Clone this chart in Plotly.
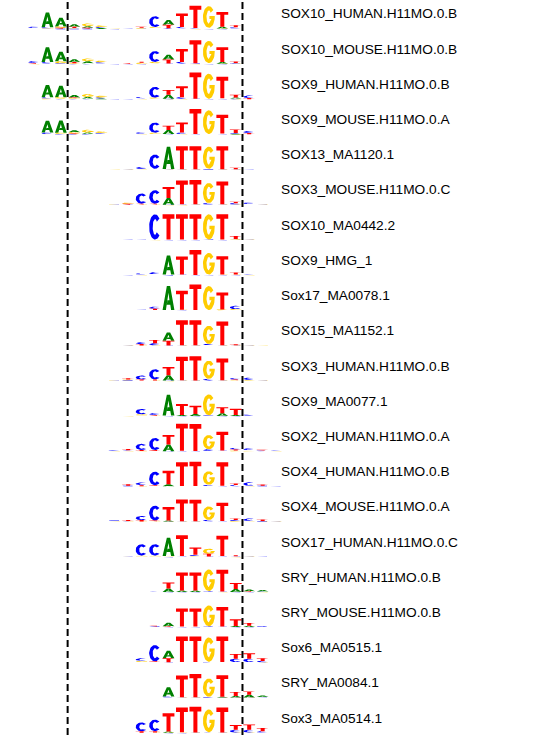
import numpy as np
import plotly.graph_objects as go

# ---------------- data (information content, bits) ----------------
NAMES = [
    "SOX10_HUMAN.H11MO.0.B", "SOX10_MOUSE.H11MO.0.B", "SOX9_HUMAN.H11MO.0.B",
    "SOX9_MOUSE.H11MO.0.A", "SOX13_MA1120.1", "SOX3_MOUSE.H11MO.0.C",
    "SOX10_MA0442.2", "SOX9_HMG_1", "Sox17_MA0078.1", "SOX15_MA1152.1",
    "SOX3_HUMAN.H11MO.0.B", "SOX9_MA0077.1", "SOX2_HUMAN.H11MO.0.A",
    "SOX4_HUMAN.H11MO.0.B", "SOX4_MOUSE.H11MO.0.A", "SOX17_HUMAN.H11MO.0.C",
    "SRY_HUMAN.H11MO.0.B", "SRY_MOUSE.H11MO.0.B", "Sox6_MA0515.1",
    "SRY_MA0084.1", "Sox3_MA0514.1",
]
POSITIONS = list(range(19))          # aligned motif positions
CORE_BOUNDS = [2.5, 15.5]            # dashed guide lines (between positions)

A_BITS = [
    [.04,1.10,.65,.20,.12,.06,.03,.02,.02,.04,.35,.04,.03,.05,.12,.04,0,0,0],
    [.04,1.10,.70,.20,.15,.05,.03,.02,.02,.04,.35,.04,.03,.04,.12,.03,0,0,0],
    [0,.90,.85,.18,.12,.06,.02,.02,.02,.04,.30,.04,.02,.03,.05,.08,.02,0,0],
    [0,.87,.90,.15,.10,.05,.02,.02,.02,.04,.30,.04,.02,.03,.05,.06,.02,0,0],
    [0,0,0,0,0,0,.02,.02,.02,.03,1.65,.02,.02,.02,.02,.03,.02,0,0],
    [0,0,0,0,0,0,.02,.02,.03,.03,.50,.03,.02,.03,.02,.03,.02,.02,0],
    [0,0,0,0,0,0,0,.02,.02,.03,.03,.03,.03,.02,.03,.03,.02,0,0],
    [0,0,0,0,0,0,0,.02,.02,.03,1.40,.03,.02,.03,.03,.03,.02,0,0],
    [0,0,0,0,0,0,.02,.02,.02,.03,1.78,.03,.02,.02,.03,.02,0,0,0],
    [0,0,0,0,0,0,.01,.02,.02,.03,.60,.02,.02,.05,.03,.02,.02,.04,0],
    [0,0,0,0,0,0,.02,.02,.02,.03,.40,.02,.02,.03,.02,.03,.03,.02,.01],
    [0,0,0,0,0,0,0,.01,.03,.03,1.55,.08,.15,.02,.20,.08,.02,0,0],
    [0,0,0,0,0,0,.02,.02,.02,.03,.50,.03,.02,.03,.03,.03,.03,.02,.02],
    [0,0,0,0,0,0,.02,.02,.02,.03,.15,.03,.02,.03,.03,.02,.02,.02,.01],
    [0,0,0,0,0,0,.02,.02,.02,.03,.08,.03,.02,.03,.03,.02,.02,.02,.01],
    [0,0,0,0,0,0,0,.02,.03,.03,1.35,.03,.05,.03,.03,.03,.02,.02,0],
    [0,0,0,0,0,0,0,0,0,.02,.25,.10,.10,.02,.03,.22,.12,.10,0],
    [0,0,0,0,0,0,0,0,0,.02,.25,.04,.04,.02,.03,.08,.10,.02,0],
    [0,0,0,0,0,0,0,0,.02,.03,.55,.02,.02,.02,.02,.03,.03,.02,0],
    [0,0,0,0,0,0,0,0,0,0,.70,.03,.02,.02,.06,.12,.20,.10,.01],
    [0,0,0,0,0,0,0,0,.02,.03,.10,.03,.02,.02,.02,.03,.03,.02,0],
]
C_BITS = [
    [.10,.08,.05,.05,.05,.08,.02,.02,.03,.80,.05,.10,.05,.03,.03,.08,0,0,0],
    [.12,.10,.05,.04,.04,.08,.02,.02,.03,.80,.04,.12,.04,.03,.03,.05,0,0,0],
    [0,.10,.04,.04,.04,.08,.02,.02,.10,.80,.04,.12,.03,.02,.03,.05,.20,0,0],
    [0,.10,.04,.04,.04,.06,.02,.02,.10,.75,.03,.10,.03,.02,.03,.06,.15,0,0],
    [0,0,0,0,0,0,.01,.02,.15,1.05,.02,.02,.02,.05,.02,.02,.02,0,0],
    [0,0,0,0,0,0,.03,.03,.75,1.00,.03,.03,.03,.10,.03,.10,.10,.03,0],
    [0,0,0,0,0,0,0,.02,.03,1.87,.02,.02,.02,.03,.02,.03,.03,0,0],
    [0,0,0,0,0,0,0,.02,.10,.15,.03,.03,.02,.03,.03,.03,.05,0,0],
    [0,0,0,0,0,0,.02,.02,.03,.15,.02,.03,.02,.02,.02,.25,0,0,0],
    [0,0,0,0,0,0,.01,.02,.15,.15,.03,.02,.02,.08,.02,.02,.02,.01,0],
    [0,0,0,0,0,0,.02,.05,.30,.75,.03,.03,.02,.12,.03,.10,.15,.03,.01],
    [0,0,0,0,0,0,0,.01,.40,.12,.02,.02,.02,.05,.02,.02,.08,0,0],
    [0,0,0,0,0,0,.05,.05,.45,.90,.02,.02,.02,.12,.03,.12,.12,.04,.05],
    [0,0,0,0,0,0,.02,.05,.20,1.00,.02,.02,.02,.10,.03,.10,.25,.05,.02],
    [0,0,0,0,0,0,.05,.04,.30,1.10,.02,.02,.02,.10,.03,.08,.18,.05,.02],
    [0,0,0,0,0,0,0,.02,.85,.85,.03,.03,.08,.03,.03,.03,.03,.03,0],
    [0,0,0,0,0,0,0,0,0,.04,.02,.02,.02,.06,.03,.02,.02,.04,0],
    [0,0,0,0,0,0,0,0,0,.05,.03,.02,.02,.06,.03,.03,.03,.06,0],
    [0,0,0,0,0,0,0,0,.20,1.20,.03,.02,.02,.04,.02,.25,.25,.10,0],
    [0,0,0,0,0,0,0,0,0,0,.06,.02,.02,.06,.02,.02,.02,.03,.01],
    [0,0,0,0,0,0,0,0,.65,.85,.02,.02,.02,.04,.02,.20,.20,.10,0],
]
G_BITS = [
    [.03,.04,.10,.05,.20,.12,.02,.03,.06,.08,.03,.03,.02,1.60,.03,.03,0,0,0],
    [.02,.03,.15,.05,.20,.12,.02,.02,.08,.10,.03,.03,.02,1.65,.03,.03,0,0,0],
    [0,.05,.10,.06,.22,.12,.02,.02,.03,.06,.03,.03,.02,1.85,.02,.03,.02,0,0],
    [0,.04,.08,.10,.20,.12,.02,.02,.03,.08,.03,.03,.02,1.75,.02,.03,.02,0,0],
    [0,0,0,0,0,0,.01,.02,.02,.02,.02,.02,.02,1.65,.02,.02,.01,0,0],
    [0,0,0,0,0,0,.04,.08,.03,.03,.02,.02,.02,1.50,.02,.03,.03,.02,0],
    [0,0,0,0,0,0,0,.01,.02,.02,.02,.02,.02,1.87,.02,.06,.02,0,0],
    [0,0,0,0,0,0,0,.02,.03,.03,.03,.02,.02,1.60,.03,.03,.01,0,0],
    [0,0,0,0,0,0,.02,.02,.02,.03,.02,.03,.02,1.78,.06,.08,0,0,0],
    [0,0,0,0,0,0,.01,.02,.03,.03,.02,.02,.02,1.35,.02,.02,.02,.01,0],
    [0,0,0,0,0,0,.04,.06,.03,.03,.02,.02,.02,1.35,.03,.05,.05,.02,.01],
    [0,0,0,0,0,0,0,.01,.08,.03,.02,.02,.02,1.55,.02,.02,.02,0,0],
    [0,0,0,0,0,0,.03,.03,.03,.03,.02,.02,.02,1.05,.02,.05,.04,.02,.02],
    [0,0,0,0,0,0,.02,.02,.03,.03,.02,.02,.02,1.00,.02,.02,.03,.02,.01],
    [0,0,0,0,0,0,.02,.02,.03,.03,.02,.02,.02,1.00,.02,.05,.03,.02,.01],
    [0,0,0,0,0,0,0,.04,.06,.06,.03,.03,.05,.38,.03,.02,.02,.01,0],
    [0,0,0,0,0,0,0,0,0,.02,.02,.02,.02,1.60,.02,.02,.02,.02,0],
    [0,0,0,0,0,0,0,0,0,.02,.02,.02,.02,1.55,.02,.02,.02,.02,0],
    [0,0,0,0,0,0,0,0,.08,.03,.02,.02,.02,1.80,.02,.03,.03,.03,0],
    [0,0,0,0,0,0,0,0,0,0,.02,.02,.02,1.35,.02,.02,.02,.02,.01],
    [0,0,0,0,0,0,0,0,.03,.03,.02,.02,.02,1.68,.02,.03,.03,.03,0],
]
T_BITS = [
    [.02,.03,.06,.08,.06,.03,.02,.02,.08,.05,.25,1.00,1.65,.03,1.10,.15,0,0,0],
    [.06,.05,.04,.10,.05,.03,.02,.06,.08,.05,.30,.95,1.70,.03,1.10,.12,0,0,0],
    [0,.03,.05,.06,.04,.03,.02,.02,.05,.05,.35,.80,1.95,.02,1.60,.20,.08,0,0],
    [0,.03,.04,.06,.04,.03,.02,.02,.04,.04,.32,.75,1.85,.02,1.40,.25,.10,0,0],
    [0,0,0,0,0,0,.01,.02,.05,.05,.04,1.70,1.70,.02,1.70,.10,.01,0,0],
    [0,0,0,0,0,0,.02,.06,.06,.06,.80,1.75,1.80,.03,1.70,.10,.05,.02,0],
    [0,0,0,0,0,0,0,.01,.02,.02,1.87,1.87,1.87,.02,1.87,.22,.01,0,0],
    [0,0,0,0,0,0,0,.02,.03,.05,.03,1.35,1.85,.03,1.35,.15,.02,0,0],
    [0,0,0,0,0,0,.02,.02,.02,.10,.03,1.40,1.90,.02,1.25,.03,0,0,0],
    [0,0,0,0,0,0,.01,.02,.10,.25,.35,1.85,1.85,.03,1.75,.08,.05,.01,0],
    [0,0,0,0,0,0,.03,.10,.08,.08,.60,1.75,1.80,.03,1.60,.06,.03,.05,.01],
    [0,0,0,0,0,0,0,.01,.05,.06,.03,.80,.60,.02,.45,.45,.03,0,0],
    [0,0,0,0,0,0,.04,.10,.08,.06,.70,2.00,2.00,.03,1.40,.08,.05,.06,.01],
    [0,0,0,0,0,0,.02,.10,.08,.06,1.00,1.75,1.80,.03,1.75,.12,.04,.08,.01],
    [0,0,0,0,0,0,.04,.08,.10,.06,1.00,1.60,1.60,.03,1.35,.12,.04,.10,.01],
    [0,0,0,0,0,0,0,.02,.03,.03,.03,1.55,.55,.20,1.50,.08,.05,.01,0],
    [0,0,0,0,0,0,0,0,0,.04,.45,1.35,1.35,.02,1.60,.45,.06,.02,0],
    [0,0,0,0,0,0,0,0,0,.06,.06,1.35,1.35,.02,1.45,.50,.20,.03,0],
    [0,0,0,0,0,0,0,0,.05,.06,.30,1.90,1.90,.02,1.90,.35,.40,.20,0],
    [0,0,0,0,0,0,0,0,0,0,.03,1.60,1.72,.02,1.60,.30,.25,.04,.05],
    [0,0,0,0,0,0,0,0,.10,.10,1.35,1.85,1.90,.02,1.85,.35,.40,.25,0],
]
LETTERS = ["A", "C", "G", "T"]
COLORS = {"A": "#008000", "C": "#0000FF", "G": "#FFCC00", "T": "#FF0000"}

# ---------------- layout geometry ----------------
W_PX, H_PX = 544, 735
COL_PX = 13.45          # px per position
X0_PX = 34.0            # pixel centre of position 0
ROW0_BASE = 29.3        # pixel baseline of first logo
ROW_STEP = 35.2         # pixel spacing of logos
PX_PER_BIT = 13.5
ABOVE_PX, BELOW_PX = 29.0, 1.7
LETTER_W = 0.88
LABEL_POS = 18.2


# ---------------- glyph outlines (unit box) ----------------
def arc(cx, cy, rx, ry, a0, a1, n=36):
    t = np.radians(np.linspace(a0, a1, n))
    return list(zip(cx + rx * np.cos(t), cy + ry * np.sin(t)))


def glyph(letter):
    if letter == "T":
        b, s0, s1 = 0.18, 0.33, 0.67
        return [(0, 1), (1, 1), (1, 1 - b), (s1, 1 - b), (s1, 0), (s0, 0), (s0, 1 - b), (0, 1 - b), (0, 1)]
    if letter == "A":
        return [(0.28, 0), (0, 0), (0.36, 1), (0.64, 1), (1, 0), (0.72, 0), (0.65, 0.22), (0.35, 0.22),
                (0.42, 0.40), (0.58, 0.40), (0.5, 0.72), (0.42, 0.40), (0.35, 0.22), (0.28, 0)]
    if letter == "C":
        pts = arc(0.5, 0.5, 0.5, 0.5, 42, 318) + arc(0.5, 0.5, 0.2, 0.31, 318, 42)
        return pts + [pts[0]]
    if letter == "G":
        pts = arc(0.5, 0.5, 0.5, 0.5, 40, 356)
        pts += [(1.0, 0.46), (1.0, 0.55), (0.55, 0.55), (0.55, 0.41), (0.72, 0.41)]
        pts += arc(0.5, 0.5, 0.2, 0.31, 335, 40)
        return pts + [pts[0]]


GLYPHS = {L: glyph(L) for L in LETTERS}
BITS = {"A": A_BITS, "C": C_BITS, "G": G_BITS, "T": T_BITS}

fig = go.Figure()
layout_axes = {}
annotations = []
for r, name in enumerate(NAMES):
    base = ROW0_BASE + ROW_STEP * r
    top_px, bot_px = base - ABOVE_PX, base + BELOW_PX
    yname = "y" if r == 0 else f"y{r + 1}"
    layout_axes["yaxis" if r == 0 else f"yaxis{r + 1}"] = dict(
        domain=[(H_PX - bot_px) / H_PX, (H_PX - top_px) / H_PX],
        range=[-BELOW_PX / PX_PER_BIT, ABOVE_PX / PX_PER_BIT],
        visible=False, fixedrange=True, anchor="x",
    )
    xs = {L: [] for L in LETTERS}
    ys = {L: [] for L in LETTERS}
    for p in POSITIONS:
        stack = sorted(((BITS[L][r][p], L) for L in LETTERS), key=lambda t: t[0])
        y0 = 0.0
        for h, L in stack:
            if h <= 0:
                continue
            for gx, gy in GLYPHS[L]:
                xs[L].append(p + (gx - 0.5) * LETTER_W)
                ys[L].append(y0 + gy * h)
            xs[L].append(None)
            ys[L].append(None)
            y0 += h
    for L in LETTERS:
        fig.add_trace(go.Scatter(
            x=xs[L], y=ys[L], yaxis=yname, xaxis="x", mode="lines",
            fill="toself", fillcolor=COLORS[L], line=dict(width=0, color=COLORS[L]),
            hoverinfo="skip", showlegend=False,
        ))
    annotations.append(dict(
        x=LABEL_POS, y=15.3 / PX_PER_BIT, xref="x", yref=yname, text=name,
        showarrow=False, xanchor="left", yanchor="middle",
        font=dict(family="Liberation Sans, Arial, sans-serif", size=13.7, color="black"),
    ))

xmin = -X0_PX / COL_PX
xmax = xmin + W_PX / COL_PX
shapes = [dict(type="line", xref="x", yref="paper", x0=b, x1=b, y0=0, y1=1,
               line=dict(color="black", width=2, dash="7px,4px")) for b in CORE_BOUNDS]

fig.update_layout(
    width=W_PX, height=H_PX, margin=dict(l=0, r=0, t=0, b=0),
    paper_bgcolor="white", plot_bgcolor="white",
    xaxis=dict(range=[xmin, xmax], visible=False, fixedrange=True, domain=[0, 1]),
    annotations=annotations, shapes=shapes, showlegend=False,
    **layout_axes,
)
fig.write_html("out.html", config={"displayModeBar": False})
